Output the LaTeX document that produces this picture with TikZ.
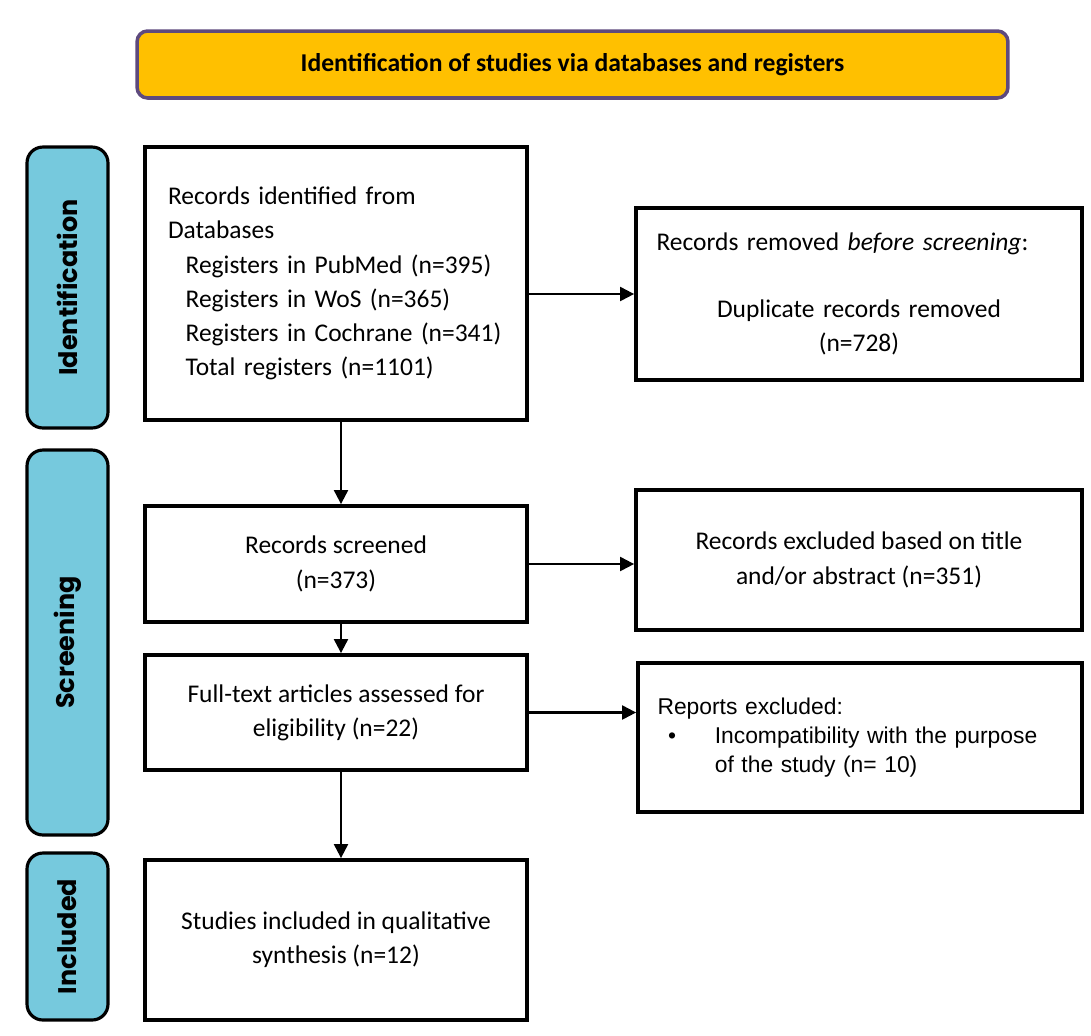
\documentclass[tikz,border=0pt]{standalone}
\usepackage{fontspec}
\setmainfont{Carlito}
\newfontfamily\arialfont{Liberation Sans}
\newfontfamily\sidefont{Poppins}
\usepackage{tikz}
\usetikzlibrary{positioning,arrows.meta}

\definecolor{titleorange}{HTML}{FFC000}
\definecolor{titlepurple}{HTML}{5E4A7E}
\definecolor{stageblue}{HTML}{76C9DD}

\begin{document}
\begin{tikzpicture}[x=0.02cm, y=-0.02cm,
  box/.style = {draw, line width = 2.2pt, shape = rectangle, fill = white, minimum width = 7.64cm, font = \fontsize{14.5}{19.5}\selectfont},
  sidebox/.style = {draw, line width = 1.8pt, fill = stageblue, rounded corners = 9pt, rotate = 90, minimum height = 1.62cm, font = \sidefont\bfseries\fontsize{14.5}{16}\selectfont},
  arr/.style = {line width = 1.2pt, -{Triangle[length = 8pt, width = 8pt]}}]
\useasboundingbox (0,0) rectangle (1091,1035);

\node[draw = titlepurple, line width = 2pt, fill = titleorange, rounded corners = 6pt, minimum width = 17.42cm, minimum height = 1.34cm, font = \bfseries\fontsize{14.6}{16}\selectfont] (title) at (572.5,64.5) {Identification of studies via databases and registers};

\node[sidebox, minimum width = 5.62cm] (ident) at (67.5,287.5) {Identification};
\node[sidebox, minimum width = 7.7cm] (screen) at (67.5,642.5) {Screening};
\node[sidebox, minimum width = 3.34cm] (incl) at (67.5,936.5) {Included};

\node[box, minimum height = 5.46cm, text width = 6.72cm, align = left] (records) at (336,283.5) {Records identified from\\Databases\\
\hspace*{10pt}Registers in PubMed (n=395)\\
\hspace*{10pt}Registers in WoS (n=365)\\
\hspace*{10pt}Registers in Cochrane (n=341)\\
\hspace*{10pt}Total registers (n=1101)};

\node[box, minimum width = 8.92cm, minimum height = 3.44cm, text width = 8.1cm] (removed) at (859,294) {Records removed \textit{before screening}:\par\vspace{6.5mm}
{\centering Duplicate records removed\\(n=728)\par}};

\node[box, minimum height = 2.32cm, align = center] (screened) at (336,564) {Records screened\\(n=373)};
\node[box, minimum width = 8.92cm, minimum height = 2.8cm, align = center] (excluded) at (859,560) {Records excluded based on title\\and/or abstract (n=351)};

\node[box, minimum height = 2.3cm, align = center] (fulltext) at (336,712.5) {Full-text articles assessed for\\eligibility (n=22)};
\node[box, minimum width = 8.88cm, minimum height = 2.98cm, text width = 8.1cm, align = left, font = \arialfont\fontsize{13}{16.7}\selectfont] (reports) at (860,737.5) {Reports excluded:\\
\makebox[32.6pt][l]{\hspace*{6pt}\textbullet}Incompatibility with the purpose\\
\hspace*{32.6pt}of the study (n= 10)};

\node[box, minimum height = 3.2cm, align = center] (studies) at (336,940) {Studies included in qualitative\\synthesis (n=12)};

% connectors
\draw[arr] (records.east |- removed.west) -- (removed.west);
\draw[arr] ([xshift=0.1cm]records.south) -- ([xshift=0.1cm]screened.north);
\draw[arr] (screened.east) -- (screened.east -| excluded.west);
\draw[arr] ([xshift=0.1cm]screened.south) -- ([xshift=0.1cm]fulltext.north);
\draw[arr] (fulltext.east) -- (fulltext.east -| reports.west);
\draw[arr] ([xshift=0.1cm]fulltext.south) -- ([xshift=0.1cm]studies.north);
\end{tikzpicture}
\end{document}
